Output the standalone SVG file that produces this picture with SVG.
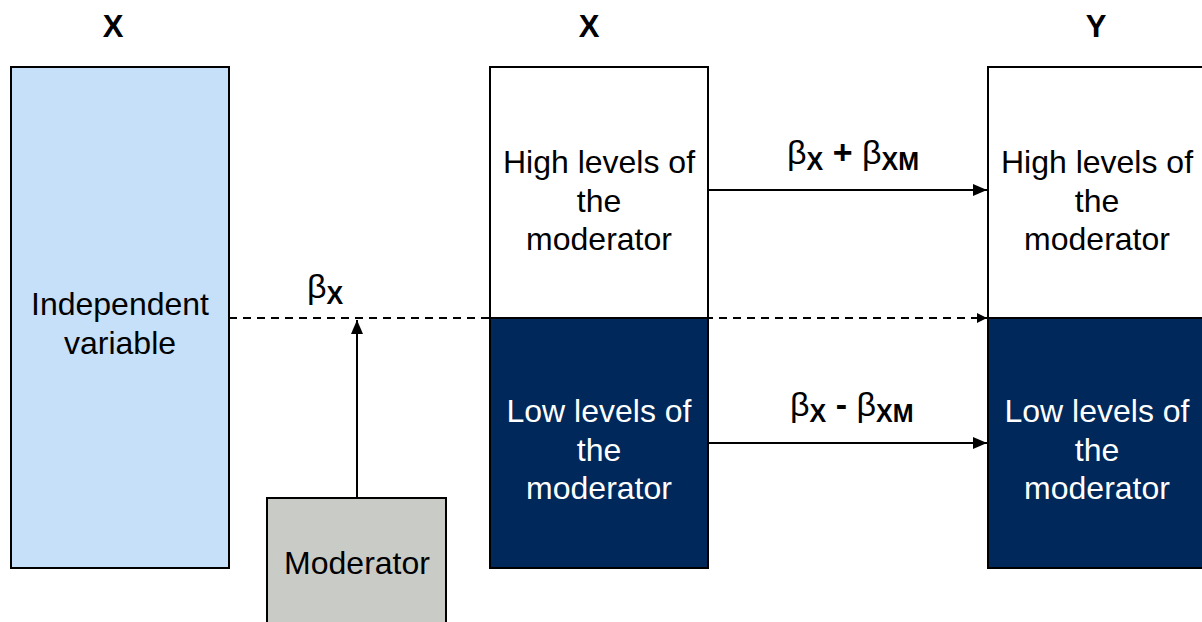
<svg xmlns="http://www.w3.org/2000/svg" width="1202" height="622" viewBox="0 0 1202 622">
  <style>
    .box { stroke: #000; stroke-width: 2; }
    .lbl { font-family: "Liberation Sans", Arial, sans-serif; font-size: 32px; fill: #000; text-anchor: middle; }
    .inv { fill: #fff; }
    .head { font-family: "Liberation Sans", Arial, sans-serif; font-size: 31px; font-weight: bold; text-anchor: middle; }
    .coef { font-family: "Liberation Sans", Arial, sans-serif; font-size: 34px; fill: #000; }
    .sub { font-size: 25px; font-weight: bold; }
    .conn { stroke: #000; stroke-width: 2; fill: none; }
  </style>
  <defs>
    <marker id="arrow" markerWidth="10" markerHeight="10" refX="10" refY="5" orient="auto" markerUnits="userSpaceOnUse" viewBox="0 0 10 10">
      <path d="M0,0 L10,5 L0,10 z" fill="#000"/>
    </marker>
    <marker id="arrowL" markerWidth="14" markerHeight="12" refX="14" refY="6" orient="auto" markerUnits="userSpaceOnUse" viewBox="0 0 14 12">
      <path d="M0,0 L14,6 L0,12 z" fill="#000"/>
    </marker>
  </defs>

  <rect width="1202" height="622" fill="#fff"/>

  <!-- column headings -->
  <text class="head" x="113" y="37">X</text>
  <text class="head" x="589" y="37">X</text>
  <text class="head" x="1096" y="37">Y</text>

  <g id="independent">
    <rect class="box" x="11" y="67" width="218" height="501" fill="#C6E0FA"/>
    <text class="lbl" x="120" y="315">Independent</text>
    <text class="lbl" x="120" y="354">variable</text>
  </g>

  <g id="moderator">
    <rect class="box" x="267" y="498" width="179" height="130" fill="#C9CBC6"/>
    <text class="lbl" x="357" y="574">Moderator</text>
  </g>

  <g id="x-high">
    <rect class="box" x="490" y="67" width="218" height="251" fill="#fff"/>
    <text class="lbl" x="599" y="173">High levels of</text>
    <text class="lbl" x="599" y="212">the</text>
    <text class="lbl" x="599" y="250">moderator</text>
  </g>

  <g id="x-low">
    <rect class="box" x="490" y="318" width="218" height="250" fill="#00285A"/>
    <text class="lbl inv" x="599" y="422">Low levels of</text>
    <text class="lbl inv" x="599" y="461">the</text>
    <text class="lbl inv" x="599" y="499">moderator</text>
  </g>

  <g id="y-high">
    <rect class="box" x="988" y="67" width="218" height="251" fill="#fff"/>
    <text class="lbl" x="1097" y="173">High levels of</text>
    <text class="lbl" x="1097" y="212">the</text>
    <text class="lbl" x="1097" y="250">moderator</text>
  </g>

  <g id="y-low">
    <rect class="box" x="988" y="318" width="218" height="250" fill="#00285A"/>
    <text class="lbl inv" x="1097" y="422">Low levels of</text>
    <text class="lbl inv" x="1097" y="461">the</text>
    <text class="lbl inv" x="1097" y="499">moderator</text>
  </g>

  <g id="connectors">
    <line class="conn" x1="229" y1="318" x2="987" y2="318" stroke-dasharray="8,6" marker-end="url(#arrow)"/>
    <line class="conn" x1="357" y1="497" x2="357" y2="320" marker-end="url(#arrowL)"/>
    <line class="conn" x1="708" y1="190" x2="987" y2="190" marker-end="url(#arrowL)"/>
    <line class="conn" x1="708" y1="443" x2="987" y2="443" marker-end="url(#arrowL)"/>
  </g>

  <!-- path coefficients -->
  <text class="coef" x="307" y="298">β<tspan class="sub" dy="6">X</tspan></text>
  <text class="coef" x="787" y="164">β<tspan class="sub" dy="6">X</tspan><tspan dy="-6" font-weight="bold"> + </tspan>β<tspan class="sub" dy="6">XM</tspan></text>
  <text class="coef" x="790" y="416">β<tspan class="sub" dy="6">X</tspan><tspan dy="-6" font-weight="bold"> - </tspan>β<tspan class="sub" dy="6">XM</tspan></text>
</svg>
